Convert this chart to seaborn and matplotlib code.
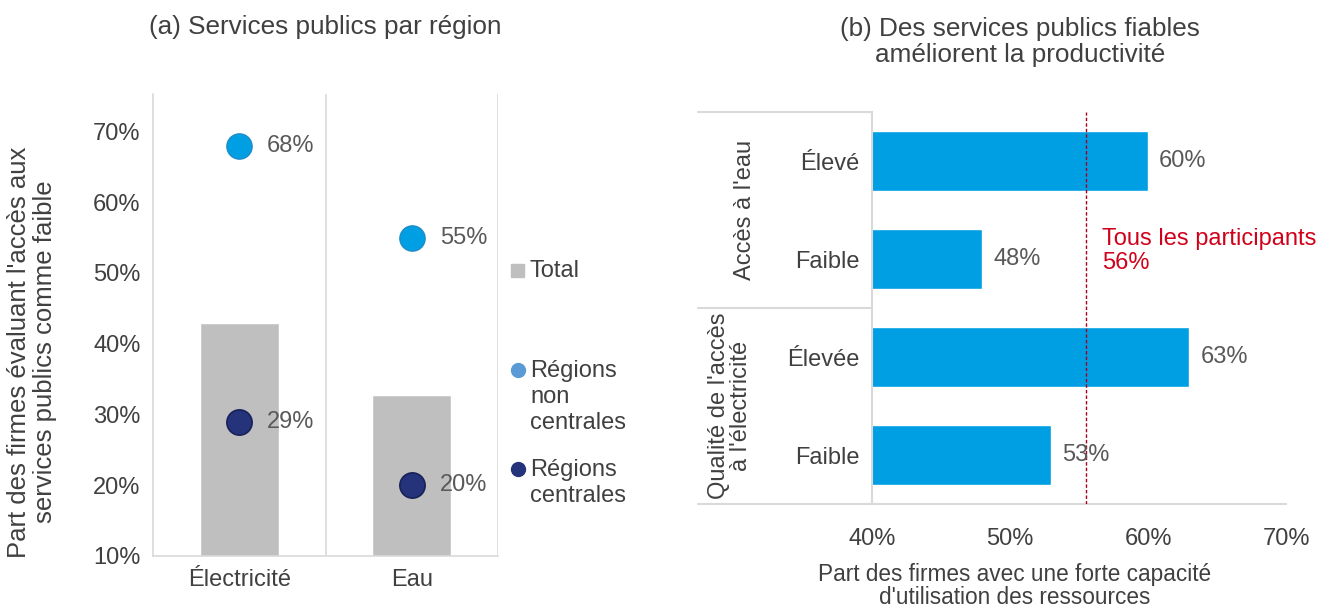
import matplotlib
matplotlib.use("Agg")
import matplotlib.pyplot as plt
from matplotlib.lines import Line2D
from matplotlib.patches import Rectangle
import seaborn as sns
import pandas as pd

# ---------------- data ----------------
services = ["Électricité", "Eau"]
total = [43.0, 32.7]
non_central = [68, 55]
central = [29, 20]

bar_labels = ["Élevé", "Faible", "Élevée", "Faible"]
bar_groups = ["Accès à l'eau", "Accès à l'eau",
              "Qualité de l'accès\nà l'électricité", "Qualité de l'accès\nà l'électricité"]
bar_values = [60, 48, 63, 53]
all_participants = 55.5

left_ticks = [10, 20, 30, 40, 50, 60, 70]
right_ticks = [40, 50, 60, 70]

# ---------------- style ----------------
sns.set_theme(style="white")
plt.rcParams["font.family"] = ["Liberation Sans", "DejaVu Sans"]
TXT = "#404040"
LBL = "#595959"
GRID = "#D9D9D9"
GREY = "#BFBFBF"
LBLUE = "#009FE3"
NAVY = "#25337A"
RED = "#A50021"
FS = 17
TFS = 18.8

fig = plt.figure(figsize=(13.22, 6.10), dpi=100)
W, H = 1322, 610

def axpos(l, r, t, b):
    return [l / W, 1 - b / H, (r - l) / W, (b - t) / H]

# ---------------- panel (a) ----------------
ax1 = fig.add_axes(axpos(153, 498, 94, 556))
df_a = pd.DataFrame({"service": services, "total": total,
                     "nc": non_central, "c": central})
sns.barplot(data=df_a, x="service", y="total", color=GREY, width=0.46,
            saturation=1, ax=ax1, zorder=2)
sns.scatterplot(data=df_a, x="service", y="nc", color=LBLUE, s=330,
                edgecolor="#1C8CC8", linewidth=1, ax=ax1, zorder=3)
sns.scatterplot(data=df_a, x="service", y="c", color=NAVY, s=330,
                edgecolor="#182158", linewidth=1.2, ax=ax1, zorder=3)
for i in range(len(services)):
    ax1.annotate(f"{non_central[i]}%", (i, non_central[i]), xytext=(28, 0),
                 textcoords="offset pixels", va="center", ha="left",
                 fontsize=FS, color=LBL, zorder=4)
    ax1.annotate(f"{central[i]}%", (i, central[i]), xytext=(28, 0),
                 textcoords="offset pixels", va="center", ha="left",
                 fontsize=FS, color=LBL, zorder=4)
ax1.set_xlim(-0.5, 1.5)
ax1.set_ylim(10, 75.3)
ax1.set_yticks(left_ticks)
ax1.set_yticklabels([f"{t}%" for t in left_ticks])
ax1.tick_params(axis="both", length=0, labelsize=FS, labelcolor=TXT)
ax1.tick_params(axis="y", pad=9)
ax1.tick_params(axis="x", pad=9)
ax1.set_xlabel("")
ax1.set_ylabel("Part des firmes évaluant l'accès aux\nservices publics comme faible",
               fontsize=18.5, color=TXT, linespacing=1.09)
ax1.yaxis.set_label_coords((57 - 153) / 345, (556 - 352) / 462)
for s in ["top", "right"]:
    ax1.spines[s].set_visible(False)
for s in ["left", "bottom"]:
    ax1.spines[s].set_color(GRID)
    ax1.spines[s].set_linewidth(1.2)
for xv in [0.5, 1.5]:
    ax1.axvline(xv, color=GRID, lw=1.2, zorder=1)
ax1.set_title("(a) Services publics par région", fontsize=TFS, color=TXT,
              pad=0, y=1 + (94 - 27) / (556 - 94), va="center")

# legend (drawn as figure text, items aligned on first line)
fig.add_artist(Rectangle(((511) / W, 1 - 277 / H), 13 / W, 13 / H,
                         transform=fig.transFigure, color=GREY))
fig.add_artist(Line2D([518 / W], [1 - 370 / H], marker="o", markersize=10,
                      color="#5B9BD5", transform=fig.transFigure))
fig.add_artist(Line2D([518 / W], [1 - 469 / H], marker="o", markersize=10,
                      color=NAVY, transform=fig.transFigure))
leg_items = [("Total", 270), ("Régions\nnon\ncentrales", 370),
             ("Régions\ncentrales", 469)]
for txt, y in leg_items:
    fig.text(530 / W, 1 - (y - 10) / H, txt, fontsize=FS, color=TXT,
             va="top", ha="left", linespacing=1.24)

# ---------------- panel (b) ----------------
ax2 = fig.add_axes(axpos(872, 1286, 112, 504))
df_b = pd.DataFrame({"label": [f"{g}|{l}|{i}" for i, (g, l) in
                               enumerate(zip(bar_groups, bar_labels))],
                     "value": bar_values})
sns.barplot(data=df_b, y="label", x="value", orient="h", color=LBLUE,
            saturation=1, width=0.61, ax=ax2, zorder=2)
for i, v in enumerate(bar_values):
    ax2.annotate(f"{v}%", (v, i), xytext=(11, 0), textcoords="offset pixels",
                 va="center", ha="left", fontsize=FS, color=LBL, zorder=4)
ax2.set_xlim(40, 70)
ax2.set_ylim(3.5, -0.5)
ax2.set_xticks(right_ticks)
ax2.set_xticklabels([f"{t}%" for t in right_ticks])
ax2.set_yticks(range(len(bar_labels)))
ax2.set_yticklabels(bar_labels)
ax2.tick_params(axis="both", length=0, labelsize=FS, labelcolor=TXT)
ax2.tick_params(axis="y", pad=9)
ax2.tick_params(axis="x", pad=17)
ax2.set_ylabel("")
ax2.set_xlabel("Part des firmes avec une forte capacité\nd'utilisation des ressources",
               fontsize=16.3, color=TXT, linespacing=1.02, va="top")
ax2.xaxis.set_label_coords((1015 - 872) / 414, -(563 - 504) / 392)
for s in ["top", "right"]:
    ax2.spines[s].set_visible(False)
for s in ["left", "bottom"]:
    ax2.spines[s].set_color(GRID)
    ax2.spines[s].set_linewidth(1.5)

# group separators
x0 = (698 - 872) / (1286 - 872)
for yv in [1.0, 0.5, 0.0]:
    ax2.plot([x0, 0], [yv, yv], transform=ax2.transAxes, color=GRID, lw=1.5,
             clip_on=False, zorder=1)
groups = ["Accès à l'eau", "Qualité de l'accès\nà l'électricité"]
ax2.text((745 - 872) / 414, 0.75, groups[0], transform=ax2.transAxes,
         rotation=90, ha="center", va="center", fontsize=FS, color=TXT)
ax2.text((730 - 872) / 414, 0.25, groups[1], transform=ax2.transAxes,
         rotation=90, ha="center", va="center", fontsize=FS, color=TXT,
         linespacing=1.0)

# reference line
ax2.axvline(all_participants, color=RED, lw=1, ls=(0, (2.5, 1.5)), zorder=3)
ax2.text(all_participants + 1.15, 0.92, f"Tous les participants\n{all_participants:.0f}%",
         color="#D0021B", fontsize=FS, va="center", ha="left", linespacing=1.12)
ax2.set_title("(b) Des services publics fiables\naméliorent la productivité",
              fontsize=TFS, color=TXT, pad=0, linespacing=1.12,
              x=(1020 - 872) / 414, y=1 + (112 - 42) / (504 - 112), va="center")

fig.savefig("out.png", dpi=100)
